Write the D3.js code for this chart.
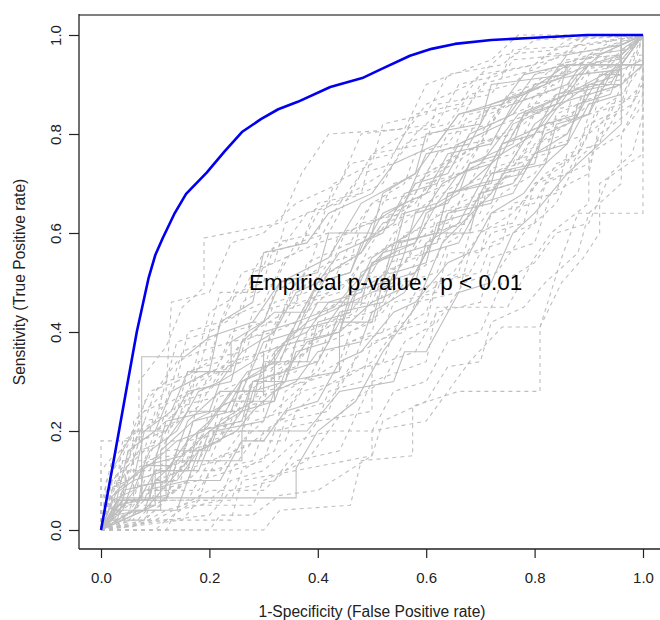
<!DOCTYPE html>
<html>
<head>
<meta charset="utf-8">
<script src="https://cdn.jsdelivr.net/npm/d3@7"></script>
<style>
  html, body { margin: 0; padding: 0; background: #fff; }
  svg { display: block; font-family: "Liberation Sans", Arial, sans-serif; }
</style>
</head>
<body>
<svg id="chart" width="660" height="620"></svg>
<script>
// ---------- data ----------
const xTicks = [0.0, 0.2, 0.4, 0.6, 0.8, 1.0];
const yTicks = [0.0, 0.2, 0.4, 0.6, 0.8, 1.0];
const xLabel = "1-Specificity (False Positive rate)";
const yLabel = "Sensitivity (True Positive rate)";
const annotation = "Empirical p-value:  p < 0.01";

// observed ROC curve (FPR, TPR)
const obsFPR = [0, 0.025, 0.05, 0.066, 0.078, 0.088, 0.1, 0.114, 0.135, 0.157, 0.195, 0.228, 0.26, 0.295, 0.327, 0.363, 0.423, 0.482, 0.515, 0.57, 0.61, 0.653, 0.72, 0.792, 0.897, 1.0];
const obsTPR = [0, 0.15, 0.303, 0.4, 0.46, 0.51, 0.555, 0.59, 0.638, 0.679, 0.722, 0.765, 0.804, 0.83, 0.85, 0.865, 0.895, 0.913, 0.93, 0.958, 0.972, 0.982, 0.99, 0.994, 1.0, 1.0];

// permutation ROC curves (FPR, TPR pairs)
const permCurves = [
 [[0,0],[0,0.18],[0.07,0.18],[0.07,0.3],[0.12,0.37],[0.15,0.45],[0.19,0.49],[0.19,0.59],[0.33,0.62],[0.37,0.72],[0.42,0.8],[0.56,0.81],[0.6,0.9],[0.72,0.95],[0.77,1],[1,1]],
 [[0,0],[0.3,0],[0.33,0.04],[0.46,0.05],[0.48,0.14],[0.575,0.15],[0.575,0.25],[0.66,0.28],[0.81,0.28],[0.81,0.41],[0.85,0.55],[0.88,0.64],[1,0.64],[1,1]],
 [[0,0],[0.035,0.065],[0.36,0.065],[0.36,0.125],[0.4,0.2],[0.47,0.26],[0.52,0.36],[0.58,0.45],[0.63,0.58],[0.72,0.68],[0.8,0.82],[0.9,0.9],[0.96,0.9],[0.96,1],[1,1]],
 [[0,0],[0.03,0.06],[0.075,0.06],[0.075,0.35],[0.155,0.35],[0.2,0.39],[0.28,0.42],[0.33,0.5],[0.42,0.55],[0.48,0.66],[0.58,0.72],[0.66,0.84],[0.78,0.88],[0.86,0.94],[1,0.94],[1,1]],
 [[0,0],[0.02,0.08],[0.05,0.12],[0.09,0.12],[0.12,0.2],[0.18,0.25],[0.22,0.32],[0.3,0.36],[0.34,0.45],[0.42,0.48],[0.46,0.58],[0.55,0.62],[0.6,0.72],[0.7,0.78],[0.75,0.88],[0.85,0.92],[0.9,0.98],[1,1]],
 [[0,0],[0.04,0.03],[0.1,0.05],[0.16,0.1],[0.2,0.18],[0.26,0.2],[0.3,0.28],[0.38,0.3],[0.42,0.38],[0.5,0.42],[0.55,0.5],[0.62,0.55],[0.66,0.66],[0.74,0.7],[0.8,0.8],[0.88,0.85],[0.93,0.93],[1,1]],
 [[0,0],[0.06,0.02],[0.08,0.1],[0.12,0.14],[0.2,0.14],[0.24,0.24],[0.28,0.3],[0.36,0.33],[0.4,0.4],[0.47,0.44],[0.52,0.52],[0.6,0.56],[0.64,0.64],[0.72,0.68],[0.78,0.76],[0.86,0.82],[0.92,0.88],[0.96,0.96],[1,1]],
 [[0,0],[0.02,0.04],[0.11,0.04],[0.11,0.16],[0.17,0.22],[0.24,0.26],[0.32,0.26],[0.32,0.36],[0.38,0.42],[0.46,0.46],[0.5,0.55],[0.57,0.6],[0.63,0.7],[0.7,0.74],[0.77,0.84],[0.86,0.88],[0.96,0.94],[0.96,1],[1,1]],
 [[0,0],[0,0.07],[0.04,0.1],[0.06,0.18],[0.1,0.22],[0.14,0.3],[0.2,0.34],[0.22,0.42],[0.3,0.46],[0.34,0.55],[0.4,0.58],[0.44,0.66],[0.52,0.7],[0.56,0.78],[0.66,0.82],[0.7,0.9],[0.8,0.93],[0.88,0.98],[1,1]],
 [[0,0],[0.05,0],[0.1,0.04],[0.13,0.08],[0.18,0.08],[0.22,0.15],[0.27,0.17],[0.33,0.22],[0.37,0.28],[0.44,0.3],[0.48,0.36],[0.54,0.4],[0.58,0.48],[0.65,0.52],[0.7,0.6],[0.76,0.64],[0.82,0.72],[0.88,0.76],[0.92,0.85],[0.96,0.88],[1,0.94],[1,1]],
 [[0,0],[0.03,0.08],[0.08,0.13],[0.13,0.13],[0.16,0.22],[0.22,0.28],[0.26,0.28],[0.3,0.38],[0.36,0.4],[0.4,0.5],[0.46,0.52],[0.5,0.62],[0.56,0.66],[0.6,0.76],[0.68,0.78],[0.72,0.86],[0.82,0.9],[0.86,0.96],[0.96,0.98],[1,1]],
 [[0,0],[0.01,0.1],[0.04,0.15],[0.08,0.24],[0.12,0.26],[0.15,0.36],[0.21,0.39],[0.25,0.48],[0.3,0.5],[0.32,0.58],[0.4,0.6],[0.43,0.7],[0.5,0.74],[0.52,0.82],[0.6,0.84],[0.64,0.92],[0.74,0.94],[0.8,0.99],[1,1]],
 [[0,0],[0.08,0.02],[0.12,0.06],[0.2,0.06],[0.24,0.1],[0.3,0.12],[0.36,0.18],[0.42,0.2],[0.46,0.26],[0.52,0.3],[0.56,0.38],[0.62,0.42],[0.67,0.5],[0.73,0.52],[0.78,0.6],[0.84,0.66],[0.88,0.75],[0.93,0.8],[0.96,0.86],[1,0.9],[1,1]],
 [[0,0],[0.04,0.05],[0.07,0.09],[0.14,0.1],[0.18,0.16],[0.25,0.2],[0.28,0.24],[0.34,0.3],[0.44,0.32],[0.44,0.4],[0.5,0.46],[0.58,0.5],[0.6,0.58],[0.66,0.62],[0.7,0.7],[0.78,0.72],[0.82,0.8],[0.9,0.84],[0.94,0.92],[1,0.95],[1,1]],
 [[0,0],[0.02,0.02],[0.03,0.1],[0.07,0.16],[0.12,0.18],[0.14,0.26],[0.2,0.3],[0.24,0.38],[0.32,0.4],[0.35,0.48],[0.42,0.52],[0.45,0.6],[0.54,0.64],[0.58,0.7],[0.64,0.74],[0.67,0.82],[0.76,0.86],[0.8,0.92],[0.9,0.96],[0.96,1],[1,1]],
 [[0,0],[0.1,0],[0.12,0.02],[0.2,0.03],[0.24,0.08],[0.32,0.1],[0.36,0.16],[0.4,0.22],[0.5,0.24],[0.5,0.33],[0.58,0.36],[0.62,0.44],[0.7,0.46],[0.72,0.55],[0.8,0.58],[0.83,0.68],[0.9,0.72],[0.92,0.82],[0.98,0.86],[1,0.92],[1,1]],
 [[0,0],[0.05,0.06],[0.09,0.06],[0.1,0.14],[0.14,0.18],[0.19,0.2],[0.23,0.26],[0.27,0.32],[0.33,0.34],[0.36,0.42],[0.43,0.45],[0.47,0.5],[0.52,0.56],[0.58,0.58],[0.62,0.66],[0.68,0.7],[0.74,0.76],[0.8,0.8],[0.84,0.88],[0.92,0.9],[0.96,0.95],[1,1]],
 [[0,0],[0.01,0.04],[0.06,0.06],[0.08,0.14],[0.18,0.16],[0.2,0.24],[0.3,0.24],[0.3,0.32],[0.38,0.36],[0.4,0.44],[0.48,0.48],[0.52,0.56],[0.6,0.62],[0.62,0.7],[0.7,0.74],[0.74,0.82],[0.84,0.86],[0.88,0.93],[0.96,0.94],[1,1]],
 [[0,0],[0.04,0.01],[0.06,0.06],[0.1,0.08],[0.14,0.12],[0.22,0.14],[0.26,0.2],[0.32,0.2],[0.34,0.28],[0.4,0.32],[0.42,0.36],[0.5,0.4],[0.52,0.48],[0.58,0.52],[0.62,0.6],[0.7,0.64],[0.72,0.72],[0.82,0.76],[0.84,0.84],[0.92,0.88],[0.94,0.95],[1,1]],
 [[0,0],[0.02,0.12],[0.06,0.2],[0.12,0.2],[0.16,0.28],[0.24,0.3],[0.26,0.38],[0.32,0.44],[0.38,0.44],[0.42,0.52],[0.48,0.56],[0.52,0.64],[0.6,0.68],[0.64,0.76],[0.72,0.78],[0.76,0.86],[0.86,0.9],[0.9,0.96],[0.97,0.97],[1,1]],
 [[0,0],[0.03,0.03],[0.05,0.12],[0.09,0.12],[0.12,0.18],[0.16,0.18],[0.18,0.26],[0.26,0.28],[0.28,0.34],[0.34,0.38],[0.38,0.46],[0.44,0.48],[0.48,0.54],[0.54,0.58],[0.56,0.66],[0.64,0.7],[0.68,0.78],[0.76,0.8],[0.8,0.88],[0.88,0.9],[0.92,0.96],[1,1]],
 [[0,0],[0.12,0.02],[0.16,0.05],[0.28,0.05],[0.3,0.1],[0.38,0.14],[0.42,0.2],[0.5,0.2],[0.54,0.28],[0.6,0.3],[0.64,0.38],[0.7,0.4],[0.74,0.5],[0.8,0.54],[0.84,0.6],[0.9,0.62],[0.94,0.72],[0.98,0.76],[1,0.84],[1,1]],
 [[0,0],[0,0.05],[0.02,0.14],[0.05,0.18],[0.09,0.28],[0.14,0.3],[0.16,0.4],[0.22,0.42],[0.26,0.52],[0.32,0.54],[0.34,0.62],[0.42,0.66],[0.46,0.74],[0.54,0.76],[0.58,0.84],[0.66,0.86],[0.7,0.92],[0.8,0.94],[0.86,0.99],[1,1]],
 [[0,0],[0.06,0.04],[0.14,0.04],[0.16,0.1],[0.22,0.1],[0.26,0.18],[0.3,0.18],[0.34,0.24],[0.4,0.26],[0.44,0.34],[0.48,0.36],[0.54,0.44],[0.58,0.46],[0.64,0.54],[0.68,0.56],[0.72,0.64],[0.78,0.68],[0.82,0.74],[0.86,0.78],[0.9,0.86],[0.96,0.88],[0.96,0.98],[1,1]],
 [[0,0],[0.02,0.06],[0.04,0.06],[0.05,0.16],[0.1,0.2],[0.14,0.22],[0.17,0.3],[0.24,0.34],[0.28,0.42],[0.34,0.42],[0.38,0.5],[0.46,0.54],[0.48,0.62],[0.56,0.64],[0.6,0.72],[0.66,0.76],[0.7,0.84],[0.78,0.88],[0.84,0.94],[0.92,0.96],[1,1]],
 [[0,0],[0.08,0.04],[0.1,0.1],[0.15,0.12],[0.18,0.2],[0.24,0.22],[0.26,0.28],[0.34,0.32],[0.36,0.38],[0.44,0.42],[0.46,0.5],[0.54,0.52],[0.56,0.6],[0.64,0.62],[0.68,0.7],[0.76,0.74],[0.78,0.8],[0.86,0.84],[0.88,0.92],[0.96,0.94],[1,1]],
 [[0,0],[0.01,0.06],[0.06,0.1],[0.08,0.2],[0.13,0.24],[0.16,0.32],[0.24,0.32],[0.24,0.38],[0.3,0.42],[0.33,0.5],[0.4,0.52],[0.42,0.6],[0.5,0.6],[0.52,0.68],[0.58,0.72],[0.6,0.8],[0.7,0.82],[0.72,0.9],[0.86,0.92],[0.86,0.94],[1,0.94],[1,1]],
 [[0,0],[0.04,0.02],[0.08,0.08],[0.14,0.08],[0.16,0.14],[0.2,0.2],[0.26,0.22],[0.3,0.3],[0.36,0.32],[0.38,0.4],[0.46,0.44],[0.5,0.5],[0.56,0.54],[0.6,0.62],[0.66,0.66],[0.7,0.74],[0.76,0.76],[0.8,0.84],[0.88,0.86],[0.9,0.92],[0.96,0.96],[1,1]],
 [[0,0],[0.2,0],[0.22,0.03],[0.28,0.03],[0.33,0.07],[0.4,0.08],[0.5,0.15],[0.52,0.22],[0.6,0.26],[0.64,0.33],[0.7,0.34],[0.72,0.42],[0.78,0.45],[0.82,0.5],[0.88,0.56],[0.9,0.64],[0.96,0.7],[0.96,0.8],[1,0.88],[1,1]],
 [[0,0],[0.02,0.02],[0.04,0.08],[0.12,0.1],[0.14,0.16],[0.2,0.16],[0.22,0.22],[0.28,0.26],[0.3,0.34],[0.38,0.34],[0.4,0.42],[0.46,0.44],[0.48,0.52],[0.54,0.56],[0.56,0.64],[0.62,0.66],[0.66,0.72],[0.72,0.74],[0.76,0.82],[0.84,0.86],[0.88,0.92],[0.96,0.93],[0.96,1],[1,1]],
 [[0,0],[0.03,0.1],[0.04,0.18],[0.1,0.22],[0.12,0.3],[0.18,0.32],[0.2,0.4],[0.26,0.44],[0.28,0.52],[0.36,0.56],[0.4,0.64],[0.46,0.68],[0.5,0.76],[0.56,0.8],[0.6,0.86],[0.68,0.9],[0.74,0.96],[0.84,0.97],[0.9,1],[1,1]],
 [[0,0],[0.06,0.06],[0.06,0.12],[0.12,0.16],[0.2,0.17],[0.22,0.25],[0.28,0.28],[0.32,0.36],[0.4,0.38],[0.42,0.45],[0.5,0.46],[0.53,0.54],[0.6,0.56],[0.62,0.64],[0.7,0.66],[0.72,0.73],[0.8,0.76],[0.82,0.82],[0.9,0.84],[0.92,0.9],[0.96,0.91],[1,1]],
 [[0,0],[0.1,0.05],[0.1,0.12],[0.18,0.12],[0.21,0.2],[0.3,0.22],[0.32,0.28],[0.36,0.3],[0.4,0.36],[0.48,0.38],[0.5,0.44],[0.56,0.48],[0.6,0.56],[0.66,0.58],[0.7,0.66],[0.76,0.68],[0.8,0.76],[0.86,0.8],[0.9,0.88],[0.96,0.9],[0.96,0.97],[1,1]],
 [[0,0],[0.02,0.03],[0.02,0.1],[0.06,0.14],[0.08,0.22],[0.16,0.24],[0.18,0.34],[0.26,0.36],[0.28,0.44],[0.36,0.46],[0.38,0.54],[0.46,0.58],[0.5,0.66],[0.58,0.68],[0.62,0.76],[0.7,0.8],[0.74,0.86],[0.82,0.9],[0.86,0.95],[0.96,0.96],[1,1]],
 [[0,0],[0.07,0.01],[0.12,0.04],[0.18,0.06],[0.2,0.12],[0.28,0.14],[0.3,0.2],[0.36,0.24],[0.4,0.28],[0.46,0.32],[0.48,0.38],[0.56,0.42],[0.6,0.48],[0.66,0.52],[0.68,0.6],[0.76,0.62],[0.8,0.7],[0.86,0.74],[0.9,0.82],[0.96,0.85],[0.98,0.92],[1,1]],
 [[0,0],[0.03,0.05],[0.12,0.07],[0.12,0.18],[0.16,0.24],[0.23,0.24],[0.26,0.3],[0.32,0.34],[0.35,0.4],[0.42,0.42],[0.46,0.48],[0.52,0.5],[0.55,0.58],[0.62,0.6],[0.64,0.68],[0.72,0.7],[0.74,0.78],[0.82,0.82],[0.86,0.88],[0.94,0.9],[0.96,0.94],[1,1]],
 [[0,0],[0,0.12],[0.03,0.16],[0.06,0.16],[0.08,0.26],[0.12,0.3],[0.14,0.38],[0.2,0.4],[0.22,0.48],[0.28,0.48],[0.31,0.56],[0.37,0.58],[0.4,0.66],[0.48,0.68],[0.5,0.76],[0.6,0.78],[0.62,0.86],[0.72,0.88],[0.76,0.95],[0.86,0.96],[0.9,1],[1,1]],
 [[0,0],[0.15,0.02],[0.18,0.06],[0.24,0.06],[0.26,0.12],[0.32,0.16],[0.34,0.22],[0.42,0.24],[0.44,0.3],[0.5,0.34],[0.54,0.4],[0.6,0.42],[0.62,0.5],[0.7,0.52],[0.72,0.58],[0.8,0.62],[0.82,0.7],[0.9,0.74],[0.92,0.8],[0.97,0.84],[1,0.9],[1,1]],
 [[0,0],[0.04,0.06],[0.07,0.06],[0.08,0.13],[0.15,0.15],[0.17,0.22],[0.24,0.24],[0.26,0.3],[0.3,0.32],[0.34,0.38],[0.38,0.4],[0.42,0.46],[0.48,0.48],[0.5,0.54],[0.58,0.58],[0.6,0.64],[0.66,0.68],[0.68,0.74],[0.76,0.78],[0.78,0.84],[0.86,0.88],[0.9,0.94],[0.96,0.96],[1,1]],
 [[0,0],[0.01,0.08],[0.05,0.1],[0.07,0.18],[0.12,0.2],[0.15,0.26],[0.2,0.28],[0.24,0.34],[0.3,0.36],[0.33,0.44],[0.38,0.46],[0.42,0.52],[0.48,0.56],[0.52,0.62],[0.58,0.66],[0.62,0.72],[0.68,0.76],[0.72,0.82],[0.8,0.86],[0.84,0.92],[0.92,0.94],[0.96,0.99],[1,1]],
 [[0,0],[0.05,0.02],[0.24,0.02],[0.26,0.1],[0.36,0.12],[0.5,0.15],[0.5,0.2],[0.6,0.22],[0.68,0.34],[0.74,0.41],[0.81,0.41],[0.85,0.5],[0.89,0.55],[0.92,0.6],[0.92,0.7],[1,0.76],[1,1]],
 [[0,0],[0.1,0.02],[0.2,0.08],[0.3,0.08],[0.36,0.14],[0.44,0.16],[0.5,0.3],[0.6,0.34],[0.62,0.45],[0.75,0.45],[0.8,0.55],[0.83,0.6],[0.9,0.66],[0.9,0.76],[0.96,0.8],[1,0.86],[1,1]],
 [[0,0],[0.08,0.04],[0.16,0.14],[0.26,0.14],[0.26,0.2],[0.38,0.2],[0.44,0.28],[0.54,0.3],[0.56,0.36],[0.6,0.36],[0.66,0.48],[0.72,0.5],[0.76,0.6],[0.8,0.64],[0.86,0.72],[0.92,0.78],[0.96,0.82],[0.96,0.9],[1,0.94],[1,1]],
 [[0,0],[0.02,0.1],[0.06,0.1],[0.06,0.22],[0.12,0.28],[0.13,0.46],[0.2,0.48],[0.24,0.58],[0.3,0.6],[0.36,0.66],[0.44,0.7],[0.48,0.8],[0.62,0.82],[0.66,0.9],[0.74,0.92],[0.76,0.97],[0.9,0.98],[1,1]],
 [[0,0],[0.02,0.02],[0.05,0.16],[0.1,0.2],[0.13,0.28],[0.2,0.32],[0.22,0.42],[0.28,0.46],[0.3,0.56],[0.38,0.58],[0.42,0.64],[0.5,0.68],[0.54,0.74],[0.62,0.78],[0.66,0.84],[0.74,0.86],[0.78,0.92],[0.86,0.94],[1,0.94],[1,1]],
 [[0,0],[0.03,0.04],[0.06,0.06],[0.12,0.06],[0.14,0.12],[0.2,0.18],[0.24,0.26],[0.3,0.3],[0.34,0.36],[0.38,0.44],[0.44,0.5],[0.5,0.52],[0.54,0.6],[0.6,0.66],[0.66,0.7],[0.7,0.78],[0.78,0.82],[0.84,0.88],[0.9,0.9],[0.96,0.92],[0.96,1],[1,1]],
 [[0,0],[0.02,0.06],[0.06,0.08],[0.09,0.16],[0.14,0.2],[0.18,0.28],[0.22,0.3],[0.26,0.36],[0.32,0.4],[0.36,0.48],[0.4,0.5],[0.44,0.56],[0.52,0.6],[0.56,0.68],[0.62,0.7],[0.66,0.78],[0.74,0.82],[0.78,0.88],[0.86,0.92],[0.9,0.94],[1,0.94],[1,1]],
 [[0,0],[0.05,0.03],[0.08,0.06],[0.1,0.12],[0.16,0.14],[0.2,0.22],[0.22,0.28],[0.3,0.32],[0.32,0.4],[0.36,0.42],[0.4,0.48],[0.46,0.5],[0.5,0.58],[0.54,0.64],[0.6,0.68],[0.64,0.74],[0.7,0.78],[0.74,0.86],[0.82,0.88],[0.86,0.94],[0.96,0.95],[1,1]],
 [[0,0],[0.02,0.01],[0.05,0.06],[0.1,0.06],[0.12,0.1],[0.16,0.16],[0.22,0.18],[0.24,0.24],[0.3,0.26],[0.32,0.32],[0.38,0.36],[0.42,0.42],[0.5,0.44],[0.52,0.5],[0.56,0.54],[0.6,0.6],[0.68,0.62],[0.7,0.68],[0.76,0.72],[0.8,0.8],[0.86,0.82],[0.9,0.9],[0.96,0.92],[0.96,0.98],[1,1]],
 [[0,0],[0.04,0.06],[0.12,0.06],[0.14,0.14],[0.2,0.2],[0.26,0.2],[0.28,0.28],[0.34,0.3],[0.36,0.36],[0.42,0.38],[0.44,0.44],[0.52,0.46],[0.54,0.52],[0.6,0.54],[0.62,0.62],[0.68,0.64],[0.72,0.72],[0.8,0.74],[0.82,0.82],[0.88,0.84],[0.9,0.9],[0.96,0.9],[0.96,0.96],[1,1]],
 [[0,0],[0.01,0.05],[0.04,0.09],[0.06,0.14],[0.1,0.18],[0.12,0.24],[0.18,0.26],[0.2,0.32],[0.26,0.34],[0.28,0.4],[0.34,0.44],[0.36,0.5],[0.42,0.54],[0.44,0.6],[0.5,0.62],[0.54,0.7],[0.6,0.72],[0.64,0.8],[0.72,0.82],[0.76,0.88],[0.84,0.9],[0.88,0.95],[0.96,0.96],[1,1]],
 [[0,0],[0.06,0.01],[0.1,0.06],[0.16,0.06],[0.18,0.1],[0.24,0.12],[0.28,0.18],[0.34,0.18],[0.36,0.24],[0.42,0.26],[0.46,0.32],[0.52,0.34],[0.54,0.4],[0.6,0.44],[0.62,0.5],[0.68,0.52],[0.72,0.6],[0.78,0.62],[0.8,0.7],[0.86,0.72],[0.9,0.8],[0.94,0.84],[0.96,0.9],[1,0.94],[1,1]],
 [[0,0],[0.03,0.02],[0.05,0.1],[0.1,0.14],[0.12,0.22],[0.2,0.24],[0.22,0.3],[0.28,0.34],[0.3,0.4],[0.36,0.42],[0.4,0.5],[0.46,0.52],[0.48,0.58],[0.54,0.62],[0.58,0.7],[0.64,0.72],[0.68,0.8],[0.76,0.84],[0.8,0.9],[0.88,0.92],[0.92,0.96],[1,1]],
 [[0,0],[0.02,0.04],[0.08,0.06],[0.1,0.1],[0.14,0.1],[0.16,0.18],[0.24,0.2],[0.26,0.26],[0.32,0.28],[0.34,0.34],[0.4,0.34],[0.42,0.4],[0.48,0.42],[0.5,0.48],[0.56,0.5],[0.6,0.58],[0.66,0.6],[0.7,0.68],[0.76,0.7],[0.8,0.78],[0.86,0.8],[0.9,0.88],[0.96,0.9],[1,0.96],[1,1]],
 [[0,0],[0,0.04],[0.03,0.08],[0.04,0.14],[0.08,0.16],[0.1,0.24],[0.16,0.28],[0.18,0.36],[0.24,0.38],[0.26,0.46],[0.32,0.5],[0.36,0.58],[0.42,0.6],[0.46,0.68],[0.52,0.72],[0.56,0.8],[0.64,0.82],[0.68,0.88],[0.76,0.9],[0.82,0.96],[0.92,0.97],[1,1]],
 [[0,0],[0.06,0.04],[0.08,0.08],[0.16,0.1],[0.18,0.16],[0.22,0.18],[0.26,0.24],[0.32,0.26],[0.34,0.32],[0.4,0.34],[0.44,0.42],[0.5,0.42],[0.52,0.5],[0.58,0.52],[0.62,0.6],[0.68,0.6],[0.7,0.68],[0.76,0.7],[0.8,0.76],[0.86,0.78],[0.88,0.86],[0.94,0.88],[0.96,0.94],[1,1]],
 [[0,0],[0.12,0],[0.14,0.04],[0.22,0.06],[0.24,0.12],[0.3,0.14],[0.32,0.2],[0.4,0.22],[0.42,0.28],[0.48,0.3],[0.5,0.38],[0.56,0.4],[0.58,0.46],[0.66,0.48],[0.68,0.56],[0.74,0.58],[0.76,0.66],[0.84,0.68],[0.86,0.76],[0.92,0.78],[0.94,0.86],[1,0.88],[1,1]],
 [[0,0],[0.02,0.08],[0.04,0.14],[0.08,0.14],[0.1,0.2],[0.14,0.24],[0.16,0.32],[0.22,0.34],[0.24,0.4],[0.3,0.42],[0.32,0.48],[0.38,0.52],[0.4,0.58],[0.46,0.6],[0.5,0.66],[0.56,0.7],[0.58,0.76],[0.64,0.78],[0.68,0.84],[0.76,0.86],[0.8,0.92],[0.88,0.94],[0.94,0.98],[1,1]],
 [[0,0],[0.04,0.04],[0.06,0.1],[0.12,0.12],[0.16,0.18],[0.2,0.22],[0.24,0.28],[0.3,0.28],[0.3,0.36],[0.36,0.38],[0.4,0.46],[0.48,0.46],[0.5,0.54],[0.56,0.56],[0.58,0.64],[0.64,0.66],[0.68,0.74],[0.74,0.76],[0.78,0.84],[0.84,0.86],[0.86,0.94],[1,0.94],[1,1]],
 [[0,0],[0.04,0],[0.07,0.05],[0.1,0.05],[0.14,0.08],[0.18,0.12],[0.22,0.12],[0.26,0.18],[0.3,0.22],[0.34,0.26],[0.38,0.3],[0.44,0.34],[0.46,0.4],[0.52,0.44],[0.56,0.5],[0.62,0.52],[0.64,0.58],[0.7,0.62],[0.74,0.68],[0.8,0.72],[0.84,0.78],[0.9,0.8],[0.92,0.88],[0.96,0.9],[0.96,0.96],[1,1]],
 [[0,0],[0.02,0.1],[0.05,0.14],[0.08,0.22],[0.1,0.28],[0.14,0.34],[0.18,0.36],[0.2,0.44],[0.26,0.48],[0.3,0.56],[0.34,0.58],[0.38,0.64],[0.44,0.66],[0.48,0.72],[0.54,0.74],[0.58,0.8],[0.62,0.84],[0.68,0.86],[0.72,0.92],[0.8,0.94],[0.86,0.96],[0.9,1],[1,1]],
 [[0,0],[0.03,0.06],[0.07,0.06],[0.1,0.12],[0.16,0.12],[0.18,0.2],[0.26,0.22],[0.28,0.3],[0.34,0.3],[0.36,0.38],[0.44,0.4],[0.46,0.48],[0.52,0.5],[0.54,0.58],[0.62,0.6],[0.64,0.68],[0.7,0.7],[0.74,0.78],[0.8,0.8],[0.84,0.86],[0.9,0.88],[0.92,0.92],[0.96,0.92],[0.96,1],[1,1]],
 [[0,0],[0.01,0.02],[0.08,0.02],[0.1,0.08],[0.18,0.1],[0.2,0.14],[0.26,0.16],[0.28,0.22],[0.34,0.24],[0.38,0.3],[0.44,0.32],[0.46,0.38],[0.52,0.4],[0.54,0.46],[0.62,0.48],[0.64,0.56],[0.7,0.56],[0.72,0.64],[0.8,0.66],[0.84,0.74],[0.88,0.76],[0.9,0.84],[0.96,0.86],[0.98,0.94],[1,1]],
 [[0,0],[0.05,0.1],[0.08,0.12],[0.1,0.18],[0.14,0.22],[0.18,0.3],[0.22,0.32],[0.26,0.38],[0.3,0.4],[0.32,0.46],[0.38,0.48],[0.42,0.54],[0.48,0.56],[0.52,0.62],[0.58,0.64],[0.6,0.7],[0.66,0.72],[0.7,0.78],[0.76,0.8],[0.8,0.86],[0.86,0.88],[0.9,0.94],[1,0.96],[1,1]],
 [[0,0],[0.02,0.03],[0.08,0.04],[0.1,0.1],[0.14,0.14],[0.18,0.14],[0.2,0.2],[0.26,0.24],[0.28,0.3],[0.34,0.32],[0.38,0.38],[0.44,0.4],[0.46,0.46],[0.54,0.5],[0.56,0.56],[0.62,0.58],[0.64,0.64],[0.72,0.66],[0.74,0.72],[0.82,0.74],[0.84,0.82],[0.9,0.84],[0.92,0.9],[0.96,0.94],[1,1]]
];
// line type per permutation curve: 1 = solid, 2 = dashed
const permLty = [2,2,1,1,2,2,2,1,2,2,1,2,2,1,2,2,1,2,2,1,2,2,2,1,2,2,1,2,2,1,2,2,1,2,2,1,2,2,1,2,2,2,1,2,1,
                 2,1,2,2,1,2,2,1,2,2,1,2,2,1,2,2,1,2,2,1];

// ---------- layout ----------
const svg = d3.select("#chart");
const frameLeft = 79, frameBottom = 549, frameTop = 15, frameRight = 660;
const x = d3.scaleLinear().domain([0, 1]).range([101, 643]);
const y = d3.scaleLinear().domain([0, 1]).range([530, 35]);
const grey = "#bebebe";

const line = d3.line().x(d => x(d[0])).y(d => y(d[1]));

// permutation curves
const gPerm = svg.append("g");
permCurves.forEach((c, i) => {
  gPerm.append("path")
    .attr("d", line(c))
    .attr("fill", "none")
    .attr("stroke", grey)
    .attr("stroke-width", 1.1)
    .attr("stroke-dasharray", permLty[i] === 2 ? "4,4" : null);
});

// observed curve
const obs = obsFPR.map((v, i) => [v, obsTPR[i]]);
svg.append("path")
  .attr("d", line(obs))
  .attr("fill", "none")
  .attr("stroke", "#0000ee")
  .attr("stroke-width", 2.6)
  .attr("stroke-linejoin", "round");

// annotation
svg.append("text")
  .attr("x", 249).attr("y", 290)
  .attr("font-size", 22.5)
  .attr("fill", "#000")
  .style("white-space", "pre")
  .text(annotation);

// frame
svg.append("line").attr("x1", frameLeft).attr("x2", frameRight).attr("y1", frameTop).attr("y2", frameTop)
  .attr("stroke", "#808080").attr("stroke-width", 2.2);
svg.append("line").attr("x1", frameLeft).attr("x2", frameLeft).attr("y1", frameTop - 1).attr("y2", frameBottom)
  .attr("stroke", "#222").attr("stroke-width", 1.3);
svg.append("line").attr("x1", frameLeft).attr("x2", frameRight).attr("y1", frameBottom).attr("y2", frameBottom)
  .attr("stroke", "#222").attr("stroke-width", 1.3);

// axes
const fmt = d3.format(".1f");
const xAxis = svg.append("g")
  .attr("transform", `translate(0,${frameBottom})`)
  .call(d3.axisBottom(x).tickValues(xTicks).tickFormat(fmt).tickSize(9).tickSizeOuter(0));
xAxis.select(".domain").remove();
xAxis.selectAll("line").attr("stroke", "#222").attr("stroke-width", 1.2);
xAxis.selectAll("text").attr("font-size", 15).attr("fill", "#222")
  .attr("font-family", "Liberation Sans, Arial, sans-serif").attr("dy", null).attr("y", 34);

const yAxis = svg.append("g")
  .attr("transform", `translate(${frameLeft},0)`)
  .call(d3.axisLeft(y).tickValues(yTicks).tickFormat(fmt).tickSize(10).tickSizeOuter(0));
yAxis.select(".domain").remove();
yAxis.selectAll("line").attr("stroke", "#222").attr("stroke-width", 1.2);
yAxis.selectAll("text")
  .attr("font-size", 15).attr("fill", "#222")
  .attr("font-family", "Liberation Sans, Arial, sans-serif")
  .attr("x", null).attr("dy", null)
  .attr("text-anchor", "middle")
  .attr("transform", "translate(-18,0) rotate(-90)")
  .attr("y", 0);

// axis titles
svg.append("text")
  .attr("x", 372).attr("y", 617)
  .attr("text-anchor", "middle")
  .attr("font-size", 15.6).attr("fill", "#222")
  .text(xLabel);
svg.append("text")
  .attr("transform", "translate(25,282) rotate(-90)")
  .attr("text-anchor", "middle")
  .attr("font-size", 15.6).attr("fill", "#222")
  .text(yLabel);
</script>
</body>
</html>
